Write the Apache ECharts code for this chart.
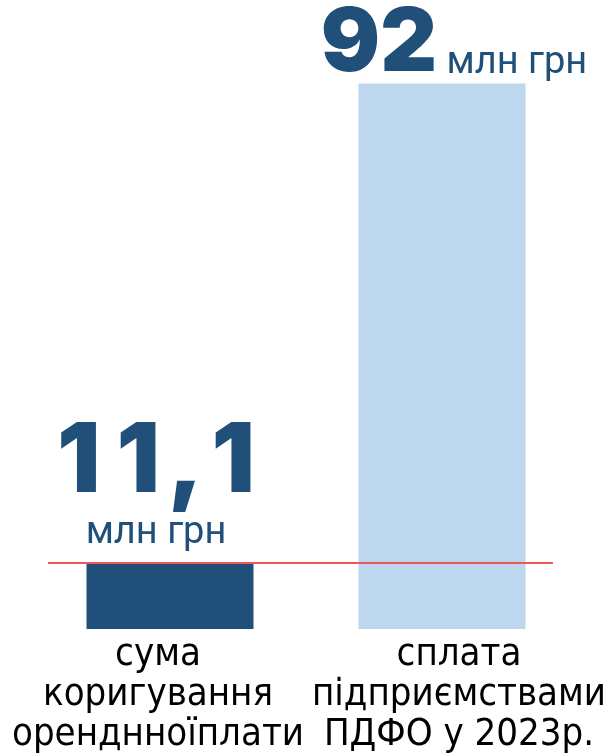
<!DOCTYPE html>
<html lang="uk">
<head>
    <meta charset="UTF-8">
    <title>ПДФО</title>
</head>
<body style="margin: 0">
<div id="container" style="height: 755px; width: 611px;"></div>
<script type="text/javascript" src="https://cdn.jsdelivr.net/npm/echarts@6/dist/echarts.min.js"></script>
<script type="text/javascript">
    const categories = [
        ['сума', 'коригування', 'оренднноїплати'],
        ['сплата', 'підприємствами', 'ПДФО у 2023р.']
    ];
    const values = [11.1, 92];
    const valueLabels = ['11,1', '92'];
    const unit = 'млн грн';
    const refLine = 11.1;

    const dark = '#20507a';
    const light = '#bdd7ee';

    const myChart = echarts.init(document.getElementById('container'), null, {renderer: 'canvas'});

    const catStyle = {
        fontFamily: 'DejaVu Sans Condensed, sans-serif',
        fontSize: 38,
        lineHeight: 40,
        color: '#000'
    };

    // wide-spaced big number: each character its own token
    function spaced(str) {
        return str.split('').map(ch => (ch === ',' ? '{c|,}' : '{d|' + ch + '}')).join('');
    }

    const bigFont = {
        fontFamily: 'Inter, sans-serif',
        fontWeight: 900,
        fontSize: 96,
        lineHeight: 96,
        color: dark
    };

    const option = {
        animation: false,
        grid: {left: 34, right: 33, top: 36, bottom: 126, containLabel: false, outerBoundsMode: 'none'},
        xAxis: {
            type: 'category',
            data: categories.map(c => c.join('\n')),
            axisLine: {show: false},
            axisTick: {show: false},
            axisLabel: {
                interval: 0,
                margin: 6,
                hideOverlap: false,
                formatter: function (value, index) {
                    const tag = index === 0 ? 'a' : 'b';
                    return value.split('\n').map(s => '{' + tag + '|' + s + '}').join('\n');
                },
                rich: {
                    a: Object.assign({padding: [0, 24, 0, 0]}, catStyle),
                    b: Object.assign({padding: [0, 0, 0, 34]}, catStyle)
                }
            }
        },
        yAxis: {
            type: 'value',
            min: 0,
            max: 100,
            show: false
        },
        series: [{
            type: 'bar',
            barWidth: 167,
            data: values.map((v, i) => ({
                value: v,
                itemStyle: {color: i === 0 ? dark : light},
                label: i === 0 ? {
                    show: true,
                    position: 'top',
                    distance: 8,
                    offset: [-14, 0],
                    formatter: spaced(valueLabels[i]) + '\n{unit|' + unit + '}'
                } : {
                    show: true,
                    position: 'top',
                    distance: -5,
                    offset: [12, 0],
                    formatter: '{big2|' + valueLabels[i] + '}{unit2| ' + unit + '}'
                }
            })),
            label: {
                rich: {
                    d: Object.assign({padding: [0, 8, 0, 8]}, bigFont),
                    c: Object.assign({padding: [0, 0, 0, 0]}, bigFont),
                    unit: {
                        fontFamily: 'Roboto, sans-serif',
                        fontSize: 38,
                        lineHeight: 44,
                        color: dark
                    },
                    big2: {
                        fontFamily: 'Inter, sans-serif',
                        fontWeight: 900,
                        fontSize: 88,
                        lineHeight: 84,
                        verticalAlign: 'bottom',
                        color: dark
                    },
                    unit2: {
                        fontFamily: 'Roboto, sans-serif',
                        fontSize: 38,
                        lineHeight: 84,
                        verticalAlign: 'bottom',
                        padding: [0, 0, 6, 0],
                        color: dark
                    }
                }
            },
            markLine: {
                silent: true,
                symbol: 'none',
                label: {show: false},
                lineStyle: {color: '#f0555a', width: 2, type: 'solid'},
                data: [[{yAxis: refLine, x: 48}, {yAxis: refLine, x: 553}]]
            }
        }]
    };
    myChart.setOption(option);
</script>
</body>
</html>
